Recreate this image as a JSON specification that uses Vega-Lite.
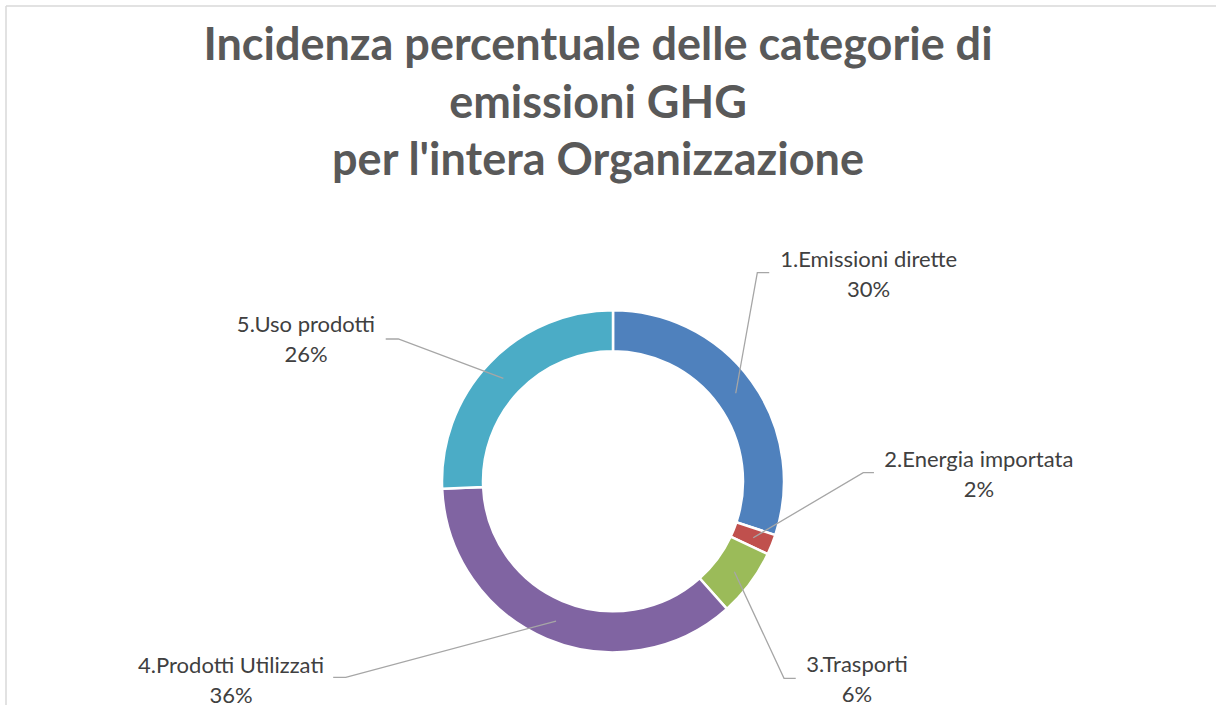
{
  "$schema": "https://vega.github.io/schema/vega-lite/v6.json",
  "width": 1210,
  "height": 699,
  "autosize": {"type": "none"},
  "padding": {"left": 6, "top": 6, "right": 0, "bottom": 0},
  "background": "white",
  "config": {"view": {"stroke": null}},
  "title": {
    "text": ["Incidenza percentuale delle categorie di", "emissioni GHG", "per l'intera Organizzazione"],
    "orient": "top",
    "anchor": "middle",
    "frame": "group",
    "font": "Lato",
    "fontWeight": "bold",
    "fontSize": 45,
    "color": "#595959",
    "lineHeight": 57.6,
    "offset": -179,
    "dx": -13
  },
  "datasets": {
    "slices": [
      {"idx": 1, "category": "1.Emissioni dirette", "value": 30.1},
      {"idx": 2, "category": "2.Energia importata", "value": 1.9},
      {"idx": 3, "category": "3.Trasporti", "value": 6.4},
      {"idx": 4, "category": "4.Prodotti Utilizzati", "value": 35.9},
      {"idx": 5, "category": "5.Uso prodotti", "value": 25.7}
    ],
    "labels": [
      {"category": "1.Emissioni dirette", "text": "1.Emissioni dirette\n30%", "x": 1.504, "y": 1.303},
      {"category": "2.Energia importata", "text": "2.Energia importata\n2%", "x": 2.152, "y": 0.123},
      {"category": "3.Trasporti", "text": "3.Trasporti\n6%", "x": 1.435, "y": -1.083},
      {"category": "4.Prodotti Utilizzati", "text": "4.Prodotti Utilizzati\n36%", "x": -2.247, "y": -1.084},
      {"category": "5.Uso prodotti", "text": "5.Uso prodotti\n26%", "x": -1.806, "y": 0.919}
    ],
    "leaders": [
      {"category": "1.Emissioni dirette", "seq": 1, "x": 0.722, "y": 0.518},
      {"category": "1.Emissioni dirette", "seq": 2, "x": 0.849, "y": 1.227},
      {"category": "1.Emissioni dirette", "seq": 3, "x": 0.919, "y": 1.227},
      {"category": "2.Energia importata", "seq": 1, "x": 0.825, "y": -0.332},
      {"category": "2.Energia importata", "seq": 2, "x": 1.472, "y": 0.051},
      {"category": "2.Energia importata", "seq": 3, "x": 1.535, "y": 0.051},
      {"category": "3.Trasporti", "seq": 1, "x": 0.714, "y": -0.532},
      {"category": "3.Trasporti", "seq": 2, "x": 1.006, "y": -1.159},
      {"category": "3.Trasporti", "seq": 3, "x": 1.075, "y": -1.159},
      {"category": "4.Prodotti Utilizzati", "seq": 1, "x": -0.335, "y": -0.822},
      {"category": "4.Prodotti Utilizzati", "seq": 2, "x": -1.572, "y": -1.153},
      {"category": "4.Prodotti Utilizzati", "seq": 3, "x": -1.646, "y": -1.153},
      {"category": "5.Uso prodotti", "seq": 1, "x": -0.645, "y": 0.606},
      {"category": "5.Uso prodotti", "seq": 2, "x": -1.263, "y": 0.837},
      {"category": "5.Uso prodotti", "seq": 3, "x": -1.337, "y": 0.837}
    ],
    "frame": [
      {"edge": "left", "x": -3.5706, "y": 2.7959}
    ]
  },
  "layer": [
    {
      "data": {"name": "frame"},
      "mark": {"type": "rule", "color": "#D9D9D9", "strokeWidth": 1.5},
      "encoding": {
        "x": {"field": "x", "type": "quantitative", "scale": {"domain": [-3.5706, 3.5471], "nice": false, "zero": false}, "axis": null}
      }
    },
    {
      "data": {"name": "frame"},
      "mark": {"type": "rule", "color": "#D9D9D9", "strokeWidth": 1.5},
      "encoding": {
        "y": {"field": "y", "type": "quantitative", "scale": {"domain": [-1.3159, 2.7959], "nice": false, "zero": false}, "axis": null}
      }
    },
    {
      "data": {"name": "slices"},
      "mark": {"type": "arc", "innerRadius": 130, "outerRadius": 171, "stroke": "white", "strokeWidth": 2.5},
      "encoding": {
        "x": {"datum": 0, "type": "quantitative", "scale": {"domain": [-3.5706, 3.5471], "nice": false, "zero": false}, "axis": null},
        "y": {"datum": 0, "type": "quantitative", "scale": {"domain": [-1.3159, 2.7959], "nice": false, "zero": false}, "axis": null},
        "theta": {"field": "value", "type": "quantitative", "stack": true},
        "order": {"field": "idx", "type": "quantitative"},
        "color": {
          "field": "category",
          "type": "nominal",
          "scale": {
            "domain": ["1.Emissioni dirette", "2.Energia importata", "3.Trasporti", "4.Prodotti Utilizzati", "5.Uso prodotti"],
            "range": ["#4F81BD", "#C0504D", "#9BBB59", "#8064A2", "#4BACC6"]
          },
          "legend": null
        }
      }
    },
    {
      "data": {"name": "leaders"},
      "mark": {"type": "line", "color": "#A6A6A6", "strokeWidth": 1.3},
      "encoding": {
        "x": {"field": "x", "type": "quantitative", "scale": {"domain": [-3.5706, 3.5471], "nice": false, "zero": false}, "axis": null},
        "y": {"field": "y", "type": "quantitative", "scale": {"domain": [-1.3159, 2.7959], "nice": false, "zero": false}, "axis": null},
        "detail": {"field": "category", "type": "nominal"},
        "order": {"field": "seq", "type": "quantitative"}
      }
    },
    {
      "data": {"name": "labels"},
      "mark": {"type": "text", "font": "Lato", "fontSize": 22, "color": "#404040", "align": "center", "baseline": "middle", "lineBreak": "\n", "lineHeight": 30},
      "encoding": {
        "x": {"field": "x", "type": "quantitative", "scale": {"domain": [-3.5706, 3.5471], "nice": false, "zero": false}, "axis": null},
        "y": {"field": "y", "type": "quantitative", "scale": {"domain": [-1.3159, 2.7959], "nice": false, "zero": false}, "axis": null},
        "text": {"field": "text", "type": "nominal"}
      }
    }
  ]
}
